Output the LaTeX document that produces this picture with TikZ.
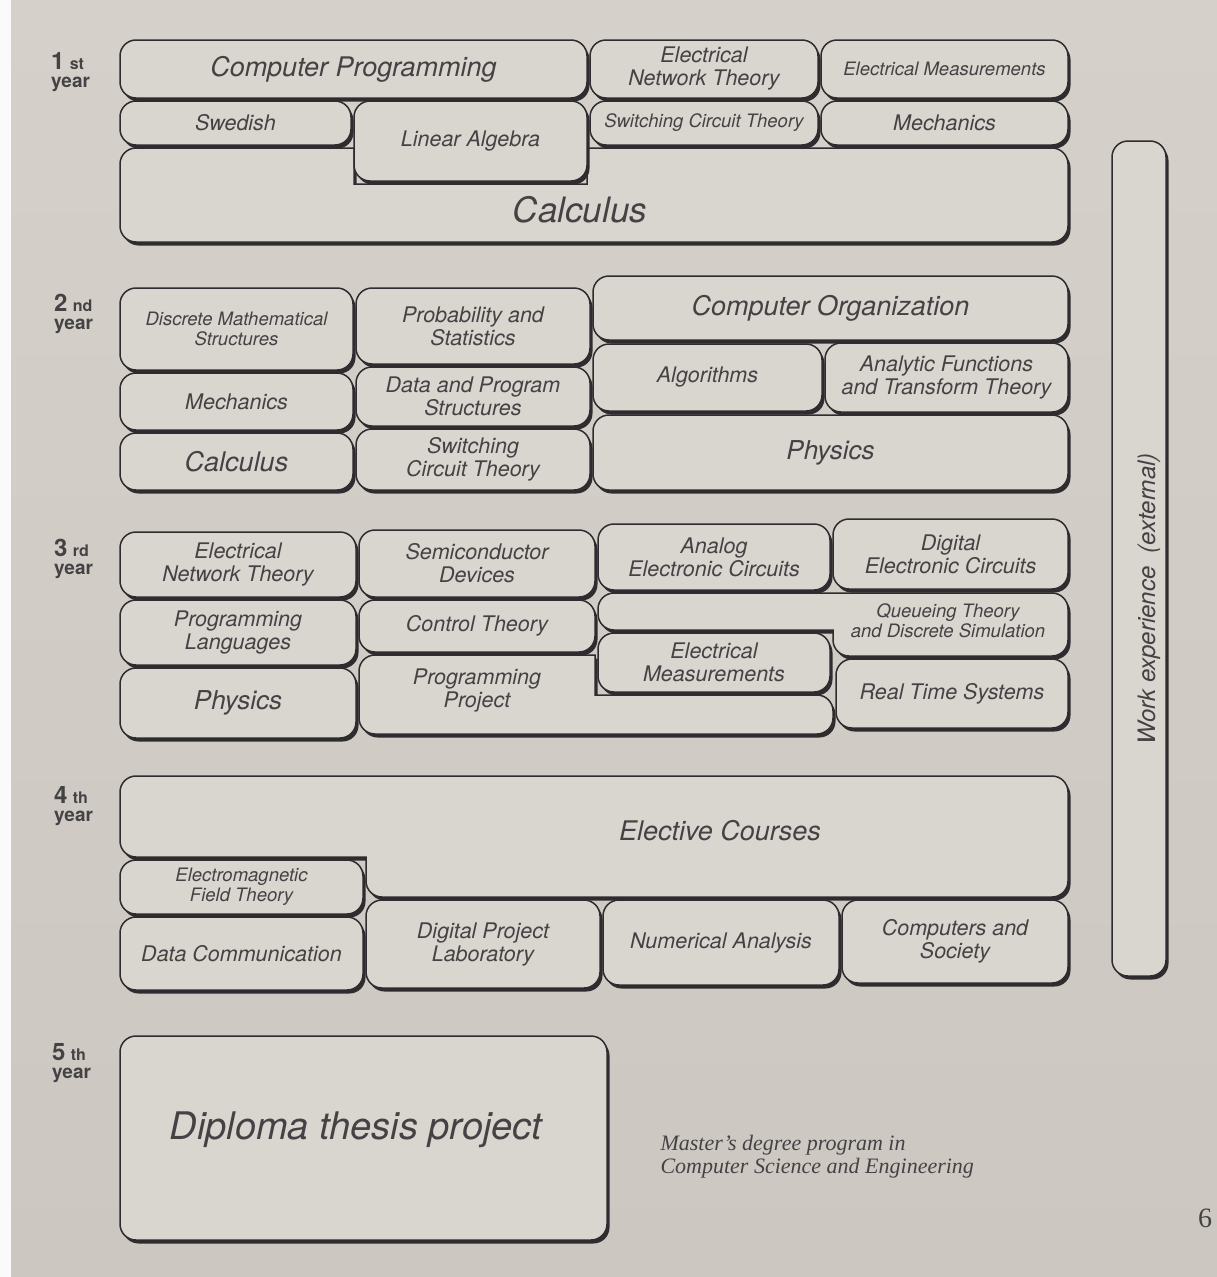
\documentclass[tikz,border=0pt]{standalone}
\usepackage{fontspec}
\setmainfont{TeX Gyre Heros}
\newfontfamily\capfont{Liberation Serif}
\usetikzlibrary{positioning,shadows}

\definecolor{papertop}{RGB}{213,209,202}
\definecolor{paperbot}{RGB}{204,200,193}
\definecolor{boxfill}{RGB}{217,214,208}
\definecolor{ink}{RGB}{46,44,46}
\definecolor{txt}{RGB}{68,66,68}

\tikzset{
    course/.style={draw=ink, line width=1.5pt, rounded corners=16pt, fill=boxfill, text=txt,
        align=center, inner sep=0pt,
        drop shadow={shadow xshift=2.5pt, shadow yshift=-3.5pt, fill=ink, opacity=1}},
    wh/.style 2 args={minimum width=#1pt, minimum height=#2pt},
    smallfont/.style={font=\fontsize{18.5}{20}\selectfont\itshape},
    midfont/.style={font=\fontsize{21.5}{23}\selectfont\itshape},
    bigfont/.style={font=\fontsize{27}{29}\selectfont\itshape},
    yearlabel/.style={anchor=north west, inner sep=0pt, align=left, text=txt,
        font=\fontsize{19}{18}\selectfont\bfseries},
}

\begin{document}
\begin{tikzpicture}[x=1pt, y=-1pt]
    % Page
    \shade[top color=papertop, bottom color=paperbot] (0,0) rectangle (1217,1277);
    \fill[white!90!papertop] (0,0) rectangle (11,1277);
    \useasboundingbox (0,0) rectangle (1217,1277);

    % Year labels
    \node[yearlabel] (year1) at (51,52) {{\fontsize{24}{24}\selectfont 1} {\fontsize{16}{16}\selectfont st}\\year};
    \node[yearlabel] (year2) at (54,294) {{\fontsize{24}{24}\selectfont 2} {\fontsize{16}{16}\selectfont nd}\\year};
    \node[yearlabel] (year3) at (54,539) {{\fontsize{24}{24}\selectfont 3} {\fontsize{16}{16}\selectfont rd}\\year};
    \node[yearlabel] (year4) at (54,786) {{\fontsize{24}{24}\selectfont 4} {\fontsize{16}{16}\selectfont th}\\year};
    \node[yearlabel] (year5) at (52,1043) {{\fontsize{24}{24}\selectfont 5} {\fontsize{16}{16}\selectfont th}\\year};

    % 1st year
    \path[course, sharp corners] (120,164) .. controls (120,155.2) and (127.2,148) .. (136,148)
        -- (354,148) -- (354,184) -- (587,184) -- (587,148)
        -- (1052,148) .. controls (1060.8,148) and (1068,155.2) .. (1068,164)
        -- (1068,226) .. controls (1068,234.8) and (1060.8,242) .. (1052,242)
        -- (136,242) .. controls (127.2,242) and (120,234.8) .. (120,226) -- cycle;
    \node[text=txt, font=\fontsize{35}{38}\selectfont\itshape] (calc1) at (580,210) {Calculus};
    \node[course, wh={247}{44}, midfont] (mech1) at (944.5,123) {Mechanics};
    \node[course, wh={228}{44}, smallfont] (sct1) at (704,123) {Switching Circuit Theory};
    \node[course, wh={233}{80}, midfont] (linalg) at (470.5,141) {Linear Algebra};
    \node[course, wh={231}{44}, midfont] (swedish) at (235.5,123) {Swedish};
    \node[course, wh={247}{58}, smallfont] (emeas1) at (944.5,69) {Electrical Measurements};
    \node[course, wh={228}{58}, midfont] (ent1) at (704,69) {Electrical\\Network Theory};
    \node[course, wh={467}{58}, bigfont] (cprog) at (353.5,69) {Computer Programming};

    % 2nd year
    \node[course, wh={475}{75}, font=\fontsize{26}{28}\selectfont\itshape] (phys2) at (830.5,452.5) {Physics};
    \node[course, wh={243}{69}, midfont] (analytic) at (946.5,377.5) {Analytic Functions\\and Transform Theory};
    \node[course, wh={229}{67}, midfont] (algo) at (707.5,377.5) {Algorithms};
    \node[course, wh={475}{64}, bigfont] (comporg) at (830.5,308) {Computer Organization};
    \node[course, wh={234}{61}, midfont] (sct2) at (473,459.5) {Switching\\Circuit Theory};
    \node[course, wh={234}{59}, midfont] (datastruct) at (473,396.5) {Data and Program\\Structures};
    \node[course, wh={234}{76}, midfont] (probstat) at (473,326) {Probability and\\Statistics};
    \node[course, wh={233}{57}, bigfont] (calc2) at (236.5,461.5) {Calculus};
    \node[course, wh={233}{57}, midfont] (mech2) at (236.5,401.5) {Mechanics};
    \node[course, wh={233}{82}, smallfont] (discrete) at (236.5,329) {Discrete Mathematical\\Structures};

    % 3rd year
    \path[course, sharp corners] (359,671) .. controls (359,662.2) and (366.2,655) .. (375,655)
        -- (595,655) -- (595,695)
        -- (817,695) .. controls (825.8,695) and (833,702.2) .. (833,711)
        -- (833,718) .. controls (833,726.8) and (825.8,734) .. (817,734)
        -- (375,734) .. controls (366.2,734) and (359,726.8) .. (359,718) -- cycle;
    \node[midfont, text=txt, align=center] (progproj) at (477,690) {Programming\\Project};
    \node[course, wh={232}{69}, midfont] (realtime) at (952,693.5) {Real Time Systems};
    \node[course, wh={232}{59}, midfont] (emeas3) at (714,662.5) {Electrical\\Measurements};
    \path[course, sharp corners] (598,609) .. controls (598,600.2) and (605.2,593) .. (614,593)
        -- (1052,593) .. controls (1060.8,593) and (1068,600.2) .. (1068,609)
        -- (1068,640) .. controls (1068,648.8) and (1060.8,656) .. (1052,656)
        -- (849,656) .. controls (840.2,656) and (833,648.8) .. (833,640)
        -- (833,630)
        -- (614,630) .. controls (605.2,630) and (598,622.8) .. (598,614) -- cycle;
    \node[smallfont, text=txt, align=center] (queue) at (948,621) {Queueing Theory\\and Discrete Simulation};
    \node[course, wh={235}{70}, midfont] (digital) at (950.5,554) {Digital\\Electronic Circuits};
    \node[course, wh={232}{66}, midfont] (analog) at (714,557) {Analog\\Electronic Circuits};
    \node[course, wh={236}{52}, midfont] (control) at (477,626) {Control Theory};
    \node[course, wh={236}{67}, midfont] (semicond) at (477,563.5) {Semiconductor\\Devices};
    \node[course, wh={236}{70}, font=\fontsize{26}{28}\selectfont\itshape] (phys3) at (238,703) {Physics};
    \node[course, wh={236}{65}, midfont] (proglang) at (238,632.5) {Programming\\Languages};
    \node[course, wh={236}{65}, midfont] (ent3) at (238,564.5) {Electrical\\Network Theory};

    % 4th year
    \node[course, wh={226}{83}, midfont] (society) at (955,941.5) {Computers and\\Society};
    \node[course, wh={236}{85}, midfont] (numerical) at (721,942.5) {Numerical Analysis};
    \node[course, wh={234}{88}, midfont] (digilab) at (483,944) {Digital Project\\Laboratory};
    \node[course, wh={243}{73}, midfont] (datacomm) at (241.5,953.5) {Data Communication};
    \node[course, wh={243}{54}, smallfont] (emfield) at (241.5,887) {Electromagnetic\\Field Theory};
    \path[course, sharp corners] (120,792) .. controls (120,783.2) and (127.2,776) .. (136,776)
        -- (1052,776) .. controls (1060.8,776) and (1068,783.2) .. (1068,792)
        -- (1068,881) .. controls (1068,889.8) and (1060.8,897) .. (1052,897)
        -- (382,897) .. controls (373.2,897) and (366,889.8) .. (366,881)
        -- (366,857)
        -- (136,857) .. controls (127.2,857) and (120,849.8) .. (120,841) -- cycle;
    \node[bigfont, text=txt] (elective) at (720,831) {Elective Courses};

    % 5th year
    \node[course, wh={487}{204}] (diploma) at (363.5,1138) {};
    \node[text=txt, font=\fontsize{38}{40}\selectfont\itshape] (diplomatxt) at (356,1130) {Diploma thesis project};
    \node[anchor=west, align=left, text=txt, font=\capfont\itshape\fontsize{22}{23}\selectfont] (program) at (657,1157)
        {Master’s degree program in\\Computer Science and Engineering};

    % Work experience
    \node[course, wh={54}{835}] (work) at (1139,558.5) {};
    \node[rotate=90, text=txt, font=\fontsize{24}{26}\selectfont\itshape] (worktxt) at (1149,599) {Work experience\ \ (external)};

    \node[text=txt, font=\capfont\fontsize{28}{28}\selectfont] (pagenum) at (1205,1218) {6};
\end{tikzpicture}
\end{document}
